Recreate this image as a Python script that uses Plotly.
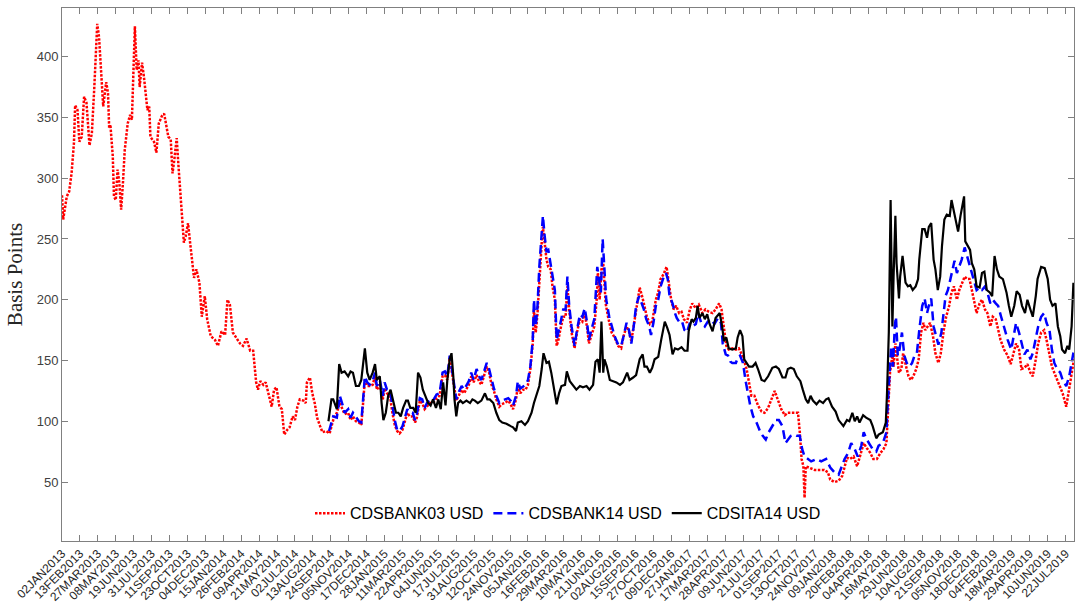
import plotly.graph_objects as go

# trading-day index (0 = 02JAN2013) and spread in basis points
bank03_day = [0, 2, 8, 12, 16, 20, 22, 26, 29, 33, 37, 41, 46, 50, 54, 57, 59, 62, 65, 69, 74, 77, 79, 81, 85, 87, 90, 93, 96, 99,
              102, 105, 110, 114, 117, 119, 122, 125, 128, 130, 134, 137, 141, 143, 146, 148, 154, 158, 162, 167, 171, 174, 178,
              182, 185, 188, 192, 195, 199, 202, 204, 207, 211, 214, 217, 221, 225, 230, 234, 239, 243, 249, 256, 261, 267, 273,
              277, 281, 286, 292, 298, 303, 309, 315, 320, 325, 328, 332, 337, 341, 346, 351, 355, 359, 364, 368, 372, 377, 381,
              386, 390, 394, 398, 404, 408, 410, 415, 419, 423, 427, 432, 436, 442, 448, 454, 460, 465, 470, 473, 479, 483, 487,
              492, 497, 501, 504, 507, 511, 515, 520, 524, 527, 532, 537, 540, 544, 549, 553, 557, 561, 565, 570, 574, 578, 582,
              587, 591, 594, 599, 603, 607, 611, 616, 621, 627, 632, 637, 641, 645, 649, 652, 656, 660, 665, 669, 673, 677, 681,
              685, 689, 694, 698, 702, 706, 711, 715, 719, 723, 727, 732, 736, 741, 747, 751, 755, 760, 763, 767, 772, 776, 780,
              784, 788, 790, 793, 796, 799, 803, 805, 808, 811, 814, 818, 821, 825, 828, 831, 834, 839, 843, 846, 849, 853, 858,
              862, 867, 871, 875, 879, 882, 886, 891, 895, 897, 900, 903, 906, 910, 914, 920, 925, 931, 936, 940, 945, 949, 953,
              959, 964, 967, 972, 975, 979, 984, 988, 994, 998, 1002, 1007, 1012, 1016, 1020, 1024, 1028, 1033, 1037, 1041, 1046,
              1051, 1055, 1061, 1066, 1072, 1077, 1083, 1089, 1094, 1100, 1104, 1108, 1112, 1116, 1122, 1128, 1133, 1137, 1141,
              1146, 1150, 1154, 1159, 1165, 1171, 1176, 1182, 1187, 1193, 1198, 1204, 1210, 1215, 1221, 1226, 1232, 1235, 1238,
              1241, 1243, 1245, 1251, 1260, 1268, 1276, 1282, 1286, 1293, 1300, 1306, 1314, 1319, 1325, 1331, 1336, 1342, 1347,
              1353, 1358, 1364, 1370, 1375, 1380, 1383, 1386, 1390, 1392, 1395, 1398, 1401, 1405, 1408, 1413, 1417, 1421, 1425,
              1430, 1434, 1438, 1442, 1445, 1449, 1453, 1458, 1462, 1467, 1471, 1476, 1480, 1485, 1489, 1493, 1498, 1502, 1507,
              1511, 1515, 1519, 1523, 1527, 1531, 1536, 1540, 1545, 1549, 1554, 1558, 1563, 1567, 1571, 1577, 1583, 1588, 1593,
              1597, 1602, 1606, 1611, 1616, 1621, 1625, 1630, 1634, 1639, 1644, 1648, 1653, 1657, 1661, 1666, 1671, 1675, 1681,
              1685, 1690, 1694]
bank03_bp = [286, 266, 285, 289, 304, 329, 360, 356, 330, 334, 367, 362, 327, 337, 374, 405, 427, 416, 395, 359, 379, 370, 341, 344,
             318, 285, 282, 307, 296, 274, 296, 323, 345, 352, 348, 384, 425, 389, 397, 375, 395, 384, 367, 356, 359, 334, 330,
             321, 345, 351, 353, 345, 334, 332, 304, 315, 333, 310, 285, 263, 247, 252, 263, 249, 233, 218, 225, 214, 186, 203,
             184, 170, 167, 162, 174, 171, 200, 196, 173, 169, 164, 162, 168, 158, 158, 132, 126, 133, 130, 132, 123, 112, 126,
             128, 112, 110, 89, 93, 95, 104, 101, 112, 118, 117, 115, 132, 136, 123, 115, 103, 96, 91, 92, 90, 101, 107, 115, 110,
             106, 107, 101, 104, 100, 99, 97, 115, 134, 129, 129, 130, 137, 126, 130, 118, 127, 123, 121, 107, 97, 92, 90, 93, 101,
             107, 104, 104, 99, 103, 117, 115, 110, 112, 115, 115, 119, 121, 137, 138, 134, 152, 143, 129, 117, 122, 126, 123, 127,
             130, 137, 132, 138, 133, 130, 136, 145, 140, 130, 125, 118, 112, 114, 115, 117, 114, 110, 118, 129, 123, 126, 126, 130,
             143, 164, 192, 173, 189, 219, 247, 260, 247, 233, 227, 225, 211, 200, 162, 167, 175, 186, 186, 211, 192, 173, 160, 173,
             184, 182, 189, 177, 164, 171, 178, 200, 222, 200, 225, 230, 197, 186, 173, 169, 162, 160, 170, 178, 174, 166, 186, 203,
             210, 201, 195, 186, 180, 182, 200, 206, 217, 221, 227, 211, 199, 192, 195, 189, 190, 184, 181, 192, 197, 193, 196, 189,
             192, 190, 189, 192, 197, 192, 175, 162, 159, 160, 159, 160, 156, 151, 143, 132, 121, 121, 113, 108, 107, 111, 118, 125,
             118, 110, 105, 107, 107, 107, 107, 91, 69, 63, 37, 63, 62, 60, 60, 60, 58, 52, 50, 51, 55, 70, 69, 71, 63, 71, 82, 78,
             74, 69, 69, 74, 77, 82, 107, 140, 154, 145, 164, 151, 140, 143, 156, 145, 137, 134, 137, 143, 151, 173, 181, 175, 178,
             181, 170, 156, 148, 156, 175, 186, 195, 206, 211, 200, 208, 214, 219, 217, 217, 208, 197, 189, 197, 200, 192, 189, 178,
             186, 184, 175, 167, 159, 154, 147, 156, 164, 159, 143, 144, 147, 140, 137, 151, 164, 173, 175, 167, 156, 145, 140, 134,
             129, 123, 112, 123, 137, 151]

bank14_day = [447, 454, 460, 465, 470, 473, 479, 483, 487, 492, 497, 501, 504, 507, 511, 515, 520, 524, 527, 532, 537, 540, 544,
              549, 553, 557, 561, 565, 570, 574, 578, 582, 587, 591, 594, 599, 603, 607, 611, 616, 621, 627, 632, 637, 641, 645,
              649, 652, 656, 660, 665, 669, 673, 677, 681, 685, 689, 694, 698, 702, 706, 711, 715, 719, 723, 727, 732, 737, 741,
              747, 751, 755, 760, 763, 767, 772, 776, 780, 784, 788, 790, 793, 796, 799, 803, 805, 808, 811, 814, 818, 821, 825,
              828, 831, 834, 839, 843, 846, 849, 853, 858, 862, 867, 871, 875, 879, 882, 886, 891, 896, 899, 902, 905, 907, 911,
              916, 920, 925, 931, 936, 940, 945, 949, 953, 957, 961, 966, 970, 974, 978, 983, 986, 990, 994, 998, 1002, 1006, 1011,
              1014, 1017, 1022, 1026, 1029, 1034, 1038, 1042, 1046, 1051, 1055, 1061, 1065, 1070, 1076, 1081, 1087, 1092, 1098,
              1103, 1106, 1111, 1115, 1119, 1122, 1128, 1131, 1135, 1140, 1144, 1148, 1152, 1157, 1161, 1165, 1169, 1173, 1178,
              1183, 1189, 1195, 1200, 1206, 1211, 1215, 1220, 1225, 1230, 1235, 1239, 1243, 1249, 1254, 1263, 1271, 1279, 1286,
              1293, 1300, 1310, 1316, 1321, 1327, 1332, 1338, 1342, 1346, 1352, 1357, 1363, 1367, 1374, 1380, 1382, 1385, 1388,
              1391, 1394, 1396, 1399, 1402, 1406, 1410, 1414, 1419, 1423, 1427, 1431, 1435, 1440, 1444, 1448, 1451, 1455, 1459,
              1464, 1467, 1472, 1476, 1479, 1483, 1487, 1490, 1494, 1498, 1502, 1506, 1511, 1515, 1519, 1523, 1527, 1531, 1536,
              1540, 1545, 1549, 1554, 1558, 1563, 1567, 1572, 1578, 1583, 1589, 1593, 1597, 1602, 1606, 1611, 1616, 1621, 1625,
              1630, 1634, 1639, 1644, 1648, 1653, 1657, 1661, 1666, 1671, 1675, 1681, 1686, 1691, 1694]
bank14_bp = [92, 104, 103, 121, 113, 107, 110, 103, 107, 103, 100, 99, 118, 137, 132, 130, 133, 140, 129, 134, 121, 132, 126, 125,
             113, 101, 93, 92, 96, 104, 110, 107, 107, 101, 106, 119, 118, 111, 115, 118, 117, 122, 123, 140, 141, 137, 154, 145,
             132, 118, 125, 129, 126, 130, 133, 140, 134, 143, 137, 134, 140, 148, 143, 134, 127, 121, 115, 117, 118, 119, 117, 113,
             121, 133, 127, 129, 130, 134, 145, 167, 200, 178, 195, 227, 255, 269, 252, 240, 241, 230, 219, 208, 167, 173, 180, 192,
             192, 219, 195, 178, 162, 175, 188, 186, 193, 181, 167, 175, 184, 227, 217, 206, 250, 233, 200, 186, 178, 170, 163, 162,
             170, 181, 175, 164, 178, 195, 203, 197, 192, 184, 178, 171, 181, 195, 200, 211, 217, 222, 217, 203, 197, 189, 185, 181,
             182, 175, 173, 181, 178, 180, 189, 181, 178, 182, 184, 180, 185, 181, 164, 155, 154, 149, 148, 148, 152, 154, 148, 134,
             123, 113, 104, 101, 96, 91, 88, 85, 91, 96, 101, 101, 96, 82, 85, 88, 89, 88, 88, 77, 71, 69, 67, 69, 67, 69, 62, 58, 56,
             69, 74, 82, 77, 71, 80, 91, 86, 81, 77, 75, 80, 82, 91, 112, 140, 162, 145, 178, 186, 154, 159, 173, 154, 148, 145, 148,
             154, 156, 175, 195, 201, 189, 195, 201, 178, 167, 163, 173, 189, 203, 208, 217, 225, 232, 222, 227, 233, 243, 236, 227,
             222, 214, 208, 210, 208, 211, 206, 197, 200, 197, 195, 186, 175, 167, 159, 170, 181, 173, 164, 155, 159, 151, 156, 167,
             178, 186, 189, 181, 175, 159, 148, 143, 140, 134, 129, 137, 151, 159]

ita14_day = [446, 451, 454, 460, 464, 468, 473, 479, 483, 487, 492, 497, 501, 504, 507, 511, 515, 520, 524, 527, 532, 535, 538, 542,
             546, 550, 554, 559, 563, 567, 571, 576, 579, 583, 588, 592, 596, 600, 604, 609, 613, 617, 621, 626, 630, 634, 638, 642,
             645, 649, 652, 655, 657, 660, 663, 667, 671, 677, 683, 687, 691, 696, 702, 708, 712, 716, 722, 727, 732, 737, 744, 751,
             755, 760, 763, 769, 775, 780, 786, 790, 794, 799, 803, 806, 811, 815, 819, 823, 828, 832, 836, 842, 845, 850, 855, 861,
             867, 872, 878, 883, 889, 893, 897, 900, 903, 906, 908, 912, 917, 922, 928, 934, 939, 946, 950, 956, 961, 967, 972, 975,
             979, 984, 988, 992, 998, 1003, 1009, 1013, 1017, 1022, 1026, 1031, 1037, 1042, 1047, 1049, 1054, 1057, 1061, 1064,
             1067, 1072, 1076, 1080, 1084, 1089, 1094, 1101, 1105, 1108, 1112, 1116, 1122, 1128, 1131, 1135, 1139, 1142, 1146, 1150,
             1156, 1161, 1165, 1171, 1176, 1182, 1189, 1195, 1200, 1206, 1211, 1215, 1220, 1225, 1230, 1236, 1240, 1245, 1249, 1253,
             1257, 1263, 1268, 1274, 1279, 1283, 1289, 1295, 1300, 1308, 1314, 1318, 1323, 1327, 1331, 1335, 1341, 1346, 1353, 1357,
             1363, 1367, 1374, 1379, 1381, 1384, 1387, 1390, 1392, 1395, 1397, 1401, 1403, 1407, 1412, 1416, 1420, 1424, 1429, 1433,
             1435, 1440, 1444, 1448, 1451, 1455, 1459, 1462, 1466, 1470, 1473, 1477, 1481, 1486, 1489, 1492, 1496, 1500, 1504, 1507,
             1510, 1512, 1516, 1520, 1523, 1527, 1531, 1536, 1540, 1544, 1548, 1553, 1557, 1561, 1565, 1569, 1575, 1581, 1585, 1589,
             1594, 1598, 1603, 1607, 1612, 1616, 1621, 1625, 1630, 1633, 1639, 1645, 1650, 1654, 1658, 1663, 1667, 1671, 1674, 1679,
             1683, 1686, 1690, 1693]
ita14_bp = [100, 118, 118, 110, 147, 140, 141, 137, 141, 140, 129, 129, 134, 148, 160, 140, 134, 140, 147, 134, 137, 115, 101, 107,
            121, 126, 118, 107, 107, 104, 111, 117, 117, 111, 111, 107, 140, 136, 126, 119, 115, 113, 118, 111, 118, 110, 132, 113,
            134, 151, 156, 137, 118, 104, 115, 117, 115, 117, 115, 118, 117, 115, 117, 123, 118, 118, 115, 107, 101, 99, 98, 96, 95,
            92, 99, 100, 97, 100, 107, 115, 121, 129, 143, 156, 148, 149, 140, 129, 114, 123, 129, 130, 141, 133, 130, 126, 129, 128,
            129, 126, 130, 149, 151, 140, 182, 140, 151, 145, 134, 133, 132, 130, 132, 140, 134, 136, 138, 151, 155, 145, 145, 140,
            144, 151, 153, 167, 182, 177, 171, 155, 160, 159, 161, 158, 158, 174, 184, 182, 185, 195, 185, 189, 184, 188, 180, 174,
            185, 189, 178, 166, 169, 160, 159, 160, 169, 175, 170, 151, 148, 145, 145, 148, 143, 134, 133, 137, 144, 145, 143, 136,
            136, 143, 144, 143, 137, 133, 126, 118, 115, 121, 117, 114, 117, 115, 118, 119, 112, 108, 101, 96, 101, 100, 107, 100,
            104, 99, 105, 103, 101, 96, 86, 89, 91, 99, 123, 173, 282, 178, 219, 269, 230, 201, 219, 236, 214, 211, 212, 208, 211,
            217, 233, 258, 258, 251, 260, 263, 233, 225, 208, 219, 244, 266, 270, 269, 282, 274, 266, 256, 269, 277, 285, 248, 244,
            241, 230, 225, 211, 210, 222, 223, 208, 206, 203, 236, 225, 219, 217, 206, 195, 186, 195, 207, 204, 195, 189, 200, 192,
            186, 203, 217, 227, 226, 217, 200, 195, 197, 178, 170, 159, 156, 162, 159, 178, 214]

tick_labels = ['02JAN2013', '13FEB2013', '27MAR2013', '08MAY2013', '19JUN2013', '31JUL2013', '11SEP2013', '23OCT2013',
               '04DEC2013', '15JAN2014', '26FEB2014', '09APR2014', '21MAY2014', '02JUL2014', '13AUG2014', '24SEP2014',
               '05NOV2014', '17DEC2014', '28JAN2015', '11MAR2015', '22APR2015', '04JUN2015', '17JUL2015', '31AUG2015',
               '12OCT2015', '24NOV2015', '05JAN2016', '16FEB2016', '29MAR2016', '10MAY2016', '21JUN2016', '02AUG2016',
               '15SEP2016', '27OCT2016', '09DEC2016', '27JAN2017', '17MAR2017', '28APR2017', '09JUN2017', '21JUL2017',
               '01SEP2017', '13OCT2017', '24NOV2017', '09JAN2018', '20FEB2018', '04APR2018', '16MAY2018', '29JUN2018',
               '10AUG2018', '21SEP2018', '05NOV2018', '18DEC2018', '04FEB2019', '18MAR2019', '29APR2019', '10JUN2019',
               '22JUL2019']
tick_step = 30  # one label every 30 trading days

fig = go.Figure()
fig.add_trace(go.Scatter(x=bank03_day, y=bank03_bp, mode='lines', name='CDSBANK03 USD',
                         line=dict(color='#ff0000', width=2.5, dash='2.5px,1.5px')))
fig.add_trace(go.Scatter(x=bank14_day, y=bank14_bp, mode='lines', name='CDSBANK14 USD',
                         line=dict(color='#0000ff', width=2.5, dash='9px,5px')))
fig.add_trace(go.Scatter(x=ita14_day, y=ita14_bp, mode='lines', name='CDSITA14 USD',
                         line=dict(color='#000000', width=2.2)))

axis_col = '#808080'
fig.update_layout(
    width=1080, height=610,
    margin=dict(l=62, r=6, t=8, b=69),
    plot_bgcolor='white', paper_bgcolor='white',
    font=dict(family='Liberation Sans, Arial, sans-serif', color='#262626'),
    showlegend=True,
    legend=dict(orientation='h', x=0.5, y=0.052, xanchor='center', yanchor='middle',
                font=dict(size=16, color='black'), bgcolor='rgba(0,0,0,0)',
                itemwidth=30, tracegroupgap=0),
    xaxis=dict(range=[0, 1694], tickmode='array', automargin=False,
               tickvals=[i * tick_step for i in range(len(tick_labels))], ticktext=tick_labels,
               tickangle=-45, tickfont=dict(size=12, color='#262626'),
               ticks='inside', ticklen=6, tickcolor=axis_col, showgrid=False, zeroline=False,
               showline=True, linecolor=axis_col, linewidth=1, mirror='ticks'),
    yaxis=dict(range=[1.5, 440], tickvals=[50, 100, 150, 200, 250, 300, 350, 400], automargin=False,
               tickfont=dict(size=13, color='#404040'),
               ticks='inside', ticklen=6, tickcolor=axis_col, showgrid=False, zeroline=False,
               showline=True, linecolor=axis_col, linewidth=1, mirror='ticks',
               title=dict(text='Basis Points', font=dict(family='Liberation Serif, Times New Roman, serif',
                                                         size=21, color='#262626'), standoff=8)),
)

# drop the default page margin so the 1080x610 figure fills the window exactly
fig.write_html("out.html", config={'displayModeBar': False},
               post_script="document.body.style.margin='0';")
